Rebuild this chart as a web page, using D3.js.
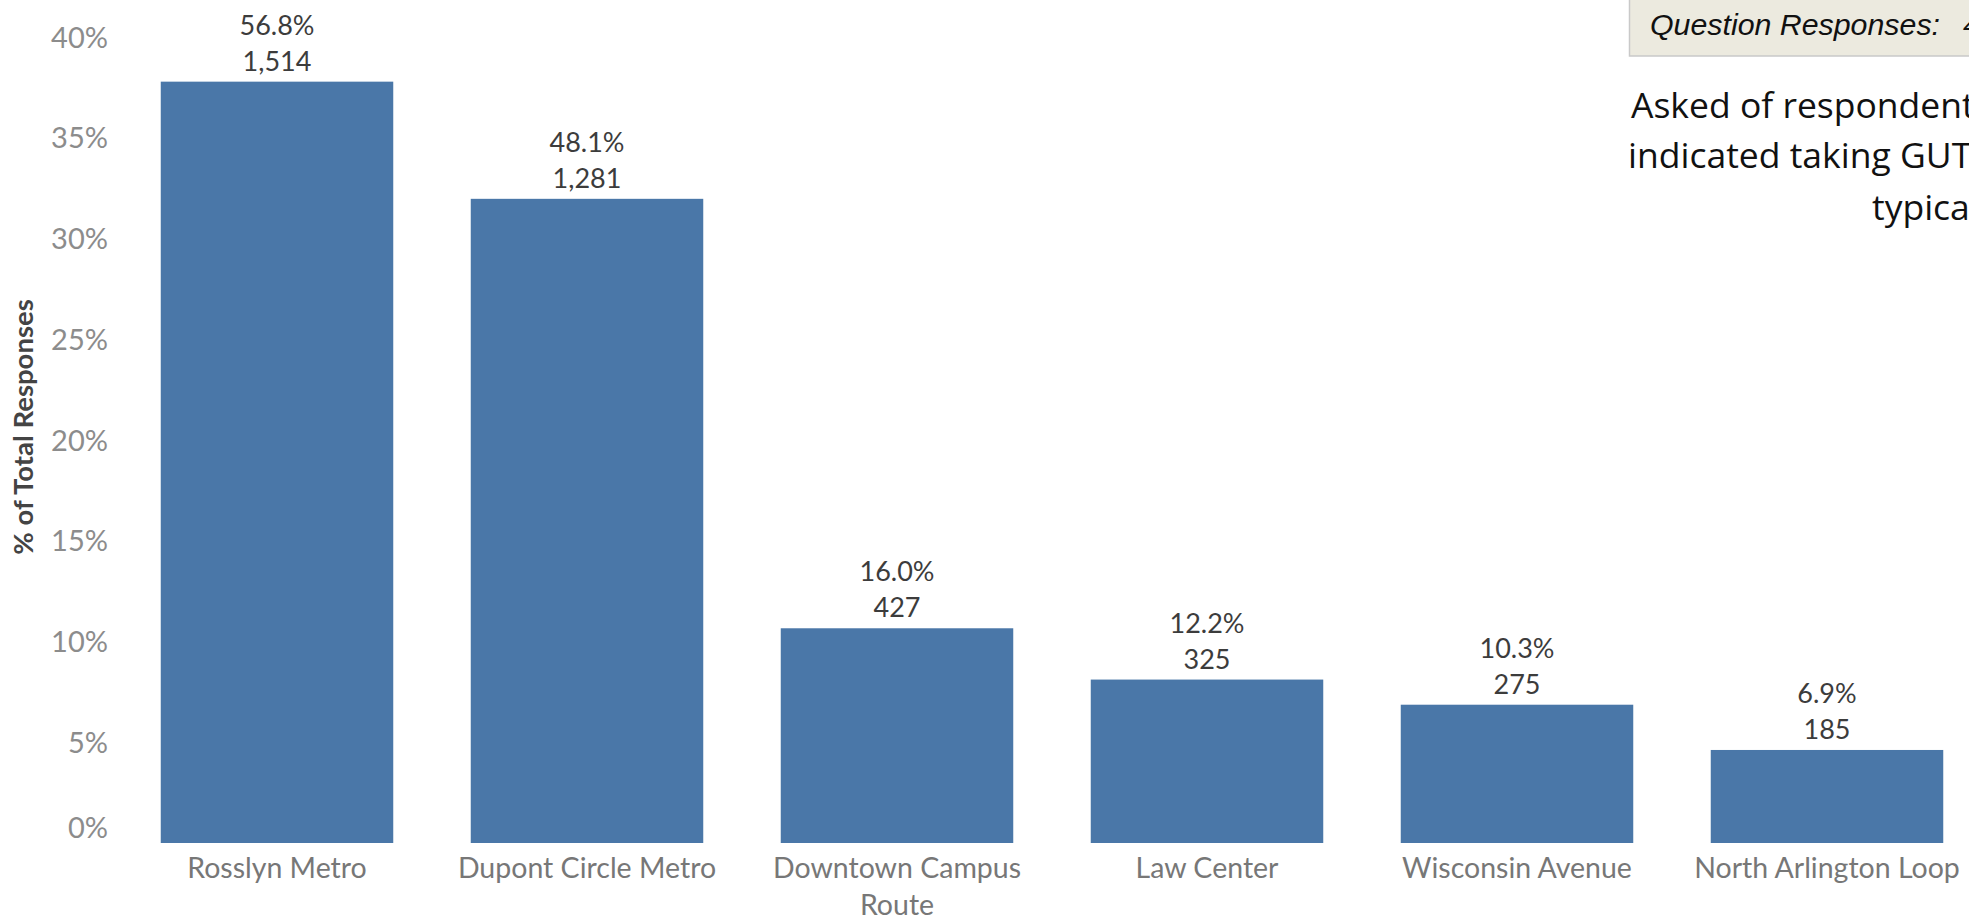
<!DOCTYPE html>
<html>
<head>
<meta charset="utf-8">
<script src="https://cdn.jsdelivr.net/npm/d3@7"></script>
<style>
  html, body { margin: 0; padding: 0; background: #ffffff; overflow: hidden; }
  svg { display: block; }
</style>
</head>
<body>
<svg id="chart" width="1969" height="920"></svg>
<script>
// Pick-up stops reported by shuttle riders
const categories = ["Rosslyn Metro", "Dupont Circle Metro", "Downtown Campus Route", "Law Center", "Wisconsin Avenue", "North Arlington Loop"];
const counts = [1514, 1281, 427, 325, 275, 185];
const respondentPct = [56.8, 48.1, 16.0, 12.2, 10.3, 6.9];
const yTicks = [0, 5, 10, 15, 20, 25, 30, 35, 40];
const yTitle = "% of Total Responses";
const noteLines = ["Asked of respondents who", "indicated taking GUTS", "typically"];

const totalResponses = d3.sum(counts);
const sharePct = counts.map(c => c / totalResponses * 100);

const svg = d3.select("#chart");
const baseY = 843, topY = 37;

const x = d3.scaleBand()
  .domain(categories)
  .range([122, 122 + 310 * categories.length])
  .paddingInner(0.25)
  .paddingOuter(0.125);

const y = d3.scaleLinear().domain([0, 40]).range([baseY, topY]);

const font = "Lato, 'Open Sans', sans-serif";

// Bars
svg.append("g").selectAll("rect")
  .data(categories)
  .join("rect")
  .attr("x", d => x(d))
  .attr("width", x.bandwidth())
  .attr("y", (d, i) => y(sharePct[i]))
  .attr("height", (d, i) => y(0) - y(sharePct[i]))
  .attr("fill", "#4a77a8");

// Value labels: share of respondents and count
const lbl = svg.append("g").attr("font-family", font).attr("font-size", 27)
  .attr("fill", "#3c3c3c").attr("text-anchor", "middle");
categories.forEach((c, i) => {
  const cx = x(c) + x.bandwidth() / 2;
  const top = y(sharePct[i]);
  lbl.append("text").attr("x", cx).attr("y", top - 47).text(respondentPct[i].toFixed(1) + "%");
  lbl.append("text").attr("x", cx).attr("y", top - 11).text(d3.format(",")(counts[i]));
});

// Y axis (labels only)
const yAxis = svg.append("g")
  .attr("transform", "translate(121,0)")
  .call(d3.axisLeft(y).tickValues(yTicks).tickSize(0).tickPadding(13).tickFormat(d => d + "%"));
yAxis.select(".domain").remove();
yAxis.selectAll("text")
  .attr("font-family", font).attr("font-size", 29).attr("fill", "#8c8c8c")
  .attr("dy", "0.35em")
  .attr("transform", d => d === 0 ? "translate(0,-16)" : null);

// Y axis title
svg.append("text")
  .attr("transform", "translate(33,427) rotate(-90)")
  .attr("text-anchor", "middle")
  .attr("font-family", font).attr("font-weight", "bold").attr("font-size", 27.5)
  .attr("fill", "#444")
  .text(yTitle);

// X axis category labels, wrapped when too long
const xAxis = svg.append("g")
  .attr("transform", `translate(0,${baseY})`)
  .call(d3.axisBottom(x).tickSize(0).tickPadding(0));
xAxis.select(".domain").remove();
xAxis.selectAll("text")
  .attr("font-family", font).attr("font-size", 28.5).attr("fill", "#777")
  .attr("y", 35).attr("dy", 0)
  .each(function (d) {
    const t = d3.select(this);
    t.text(null);
    const words = d.split(" ");
    let lines = [], cur = [];
    const probe = t.append("tspan");
    words.forEach(w => {
      probe.text([...cur, w].join(" "));
      if (cur.length && probe.node().getComputedTextLength() > 300) { lines.push(cur.join(" ")); cur = [w]; }
      else cur.push(w);
    });
    lines.push(cur.join(" "));
    probe.remove();
    lines.forEach((ln, k) => t.append("tspan").attr("x", 0).attr("dy", k === 0 ? 0 : 37).text(ln));
  });

// Note box in the top right
svg.append("rect")
  .attr("x", 1629.5).attr("y", -10).attr("width", 400).attr("height", 66)
  .attr("fill", "#eceadf").attr("stroke", "#c9c9c9").attr("stroke-width", 1.5);
const noteTitle = svg.append("text")
  .attr("x", 1650).attr("y", 35)
  .attr("font-family", "'Liberation Sans', Arial, sans-serif").attr("font-style", "italic")
  .attr("font-size", 30)
  .attr("fill", "#111");
noteTitle.append("tspan").text("Question Responses:");
const noteCount = noteTitle.append("tspan").text(d3.format(",")(totalResponses));
// size the italic heading so its lead-in spans 290px, the count follows after a wide gap
{
  const lead = noteTitle.select("tspan").node().getComputedTextLength();
  noteTitle.attr("font-size", 30 * 290 / lead);
  noteCount.attr("x", 1963);
}

const noteX = [1631, 1628, 1872];
const noteY = [118, 168, 220];
noteLines.forEach((ln, i) => {
  svg.append("text")
    .attr("x", noteX[i]).attr("y", noteY[i])
    .attr("font-family", "'Open Sans', sans-serif").attr("font-size", 35.5)
    .attr("fill", "#111")
    .text(ln);
});
</script>
</body>
</html>
